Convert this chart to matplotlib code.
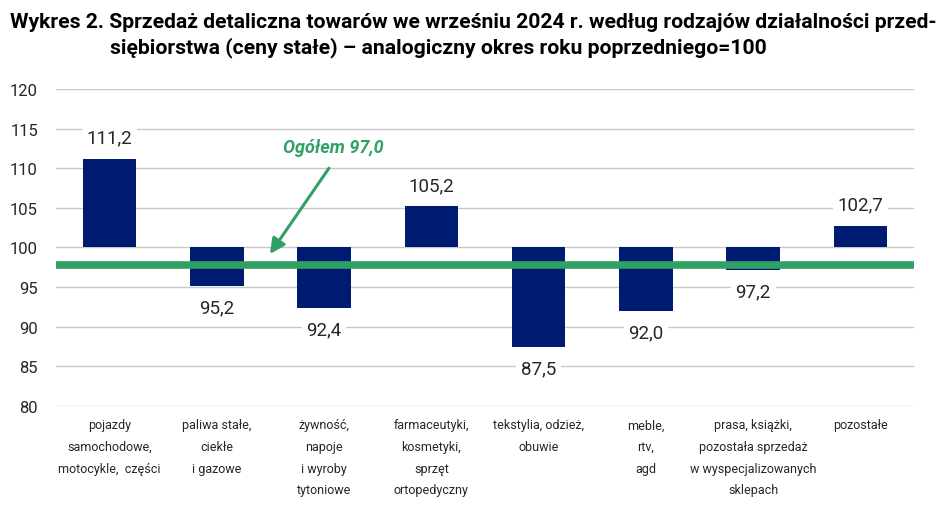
import matplotlib
matplotlib.use("Agg")
import matplotlib.pyplot as plt
import numpy as np

categories = [
    "pojazdy\nsamochodowe,\nmotocykle,  części",
    "paliwa stałe,\nciekłe\ni gazowe",
    "żywność,\nnapoje\ni wyroby\ntytoniowe",
    "farmaceutyki,\nkosmetyki,\nsprzęt\nortopedyczny",
    "tekstylia, odzież,\nobuwie",
    "meble,\nrtv,\nagd",
    "prasa, książki,\npozostała sprzedaż\nw wyspecjalizowanych\nsklepach",
    "pozostałe",
]
values = [111.2, 95.2, 92.4, 105.2, 87.5, 92.0, 97.2, 102.7]
value_labels = ["111,2", "95,2", "92,4", "105,2", "87,5", "92,0", "97,2", "102,7"]
baseline = 100
total_label = "Ogółem 97,0"
total_line_level = 97.8
yticks = [80, 85, 90, 95, 100, 105, 110, 115, 120]

BAR = "#001c72"
GREEN = "#31a065"
TXT = "#262626"

plt.rcParams["font.family"] = ["Roboto", "DejaVu Sans"]

fig = plt.figure(figsize=(9.48, 5.10), dpi=100)
ax = fig.add_axes([56/948, 1-407/510, (914-56)/948, (407-90)/510])

x = np.arange(len(values))
heights = [v - baseline for v in values]
ax.bar(x, heights, bottom=baseline, width=0.5, color=BAR, zorder=3)

ax.set_xlim(-0.5, len(values) - 0.5)
ax.set_ylim(80, 120)
ax.set_yticks(yticks)
ax.set_yticklabels([str(t) for t in yticks], fontsize=12, color=TXT)
ax.yaxis.grid(True, color="#c8c8c8", linewidth=1.0, zorder=0)
ax.set_axisbelow(True)
for s in ax.spines.values():
    s.set_visible(False)
ax.tick_params(axis="both", length=0)
ax.tick_params(axis="y", pad=13)
ax.set_xticks(x)
ax.set_xticklabels(categories, fontsize=9, color=TXT, linespacing=1.85, va="top")
ax.tick_params(axis="x", pad=9)

ax.axhline(total_line_level, color=GREEN, linewidth=5.5, zorder=4)

for xi, v, lab in zip(x, values, value_labels):
    off = 2.7 if v >= baseline else -2.7
    ax.text(xi, v + off, lab, ha="center", va="center", fontsize=13.5, color=TXT,
            zorder=5, bbox=dict(boxstyle="square,pad=0.25", fc="white", ec="none"))

ax.annotate("", xy=(1.48, 98.9), xytext=(2.06, 110.3),
            arrowprops=dict(arrowstyle="-|>,head_length=0.9,head_width=0.45",
                            color=GREEN, lw=2.2), zorder=6)
ax.text(2.09, 112.7, total_label, ha="center", va="center", fontsize=13,
        color=GREEN, fontweight="bold", fontstyle="italic", zorder=6)

fig.text(10/948, 1-22/510, "Wykres 2. Sprzedaż detaliczna towarów we wrześniu 2024 r. według rodzajów działalności przed-",
         ha="left", va="center", fontsize=15.2, fontweight="bold", color="black")
fig.text(110/948, 1-48/510, "siębiorstwa (ceny stałe) – analogiczny okres roku poprzedniego=100",
         ha="left", va="center", fontsize=15.2, fontweight="bold", color="black")

fig.savefig("out.png", dpi=100)
